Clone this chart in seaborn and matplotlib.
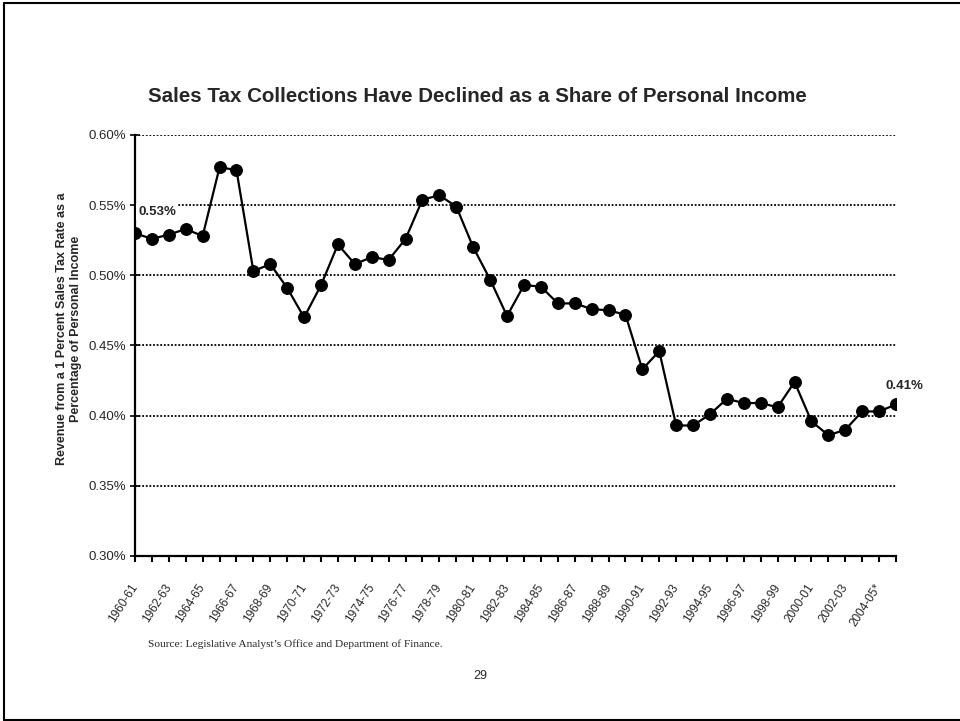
import matplotlib
matplotlib.use("Agg")
import matplotlib.pyplot as plt
from matplotlib.lines import Line2D
from matplotlib.transforms import ScaledTranslation
from matplotlib.ticker import FuncFormatter, MultipleLocator
import numpy as np
import pandas as pd
import seaborn as sns

# Fiscal years shown on the category axis
fiscal_years = [
    "1960-61", "1961-62", "1962-63", "1963-64", "1964-65", "1965-66",
    "1966-67", "1967-68", "1968-69", "1969-70", "1970-71", "1971-72",
    "1972-73", "1973-74", "1974-75", "1975-76", "1976-77", "1977-78",
    "1978-79", "1979-80", "1980-81", "1981-82", "1982-83", "1983-84",
    "1984-85", "1985-86", "1986-87", "1987-88", "1988-89", "1989-90",
    "1990-91", "1991-92", "1992-93", "1993-94", "1994-95", "1995-96",
    "1996-97", "1997-98", "1998-99", "1999-00", "2000-01", "2001-02",
    "2002-03", "2003-04", "2004-05*", "2005-06",
]

# Revenue from a 1 percent sales tax rate, percent of personal income
revenue_share = [
    0.530, 0.526, 0.529, 0.533, 0.528, 0.577, 0.575, 0.503, 0.508, 0.491,
    0.470, 0.493, 0.522, 0.508, 0.513, 0.511, 0.526, 0.554, 0.557, 0.549,
    0.520, 0.497, 0.471, 0.493, 0.492, 0.480, 0.480, 0.476, 0.475, 0.472,
    0.433, 0.446, 0.393, 0.393, 0.401, 0.412, 0.409, 0.409, 0.406, 0.424,
    0.396, 0.386, 0.390, 0.403, 0.403, 0.408,
]

# Every other fiscal year gets a tick label
labeled_years = [
    "1960-61", "1962-63", "1964-65", "1966-67", "1968-69", "1970-71",
    "1972-73", "1974-75", "1976-77", "1978-79", "1980-81", "1982-83",
    "1984-85", "1986-87", "1988-89", "1990-91", "1992-93", "1994-95",
    "1996-97", "1998-99", "2000-01", "2002-03", "2004-05*",
]

df = pd.DataFrame({
    "pos": np.arange(len(fiscal_years)),
    "year": fiscal_years,
    "share": revenue_share,
})

sns.set_theme(style="white")
plt.rcParams["font.family"] = ["Liberation Sans", "DejaVu Sans"]

W, H, DPI = 960, 721, 100
fig = plt.figure(figsize=(W / DPI, H / DPI), dpi=DPI)
fig.patch.set_facecolor("white")

# plot area in pixel coordinates
x0, x1, ytop, ybot = 135, 896, 135, 556
ax = fig.add_axes([x0 / W, (H - ybot) / H, (x1 - x0) / W, (ybot - ytop) / H])
ax.set_facecolor("white")

sns.lineplot(
    data=df, x="pos", y="share", ax=ax, color="black", linewidth=1.6,
    marker="o", markersize=8.5, markeredgecolor="black",
    markerfacecolor="black", zorder=3,
)

ax.set_xlim(0, len(fiscal_years) - 1)
ax.set_ylim(0.30, 0.60)
ax.yaxis.set_major_locator(MultipleLocator(0.05))
ax.yaxis.set_major_formatter(FuncFormatter(lambda v, _: f"{v:.2f}%"))

ax.set_xticks(df["pos"])
ax.set_xticklabels([y if y in labeled_years else "" for y in fiscal_years],
                   rotation=57, ha="right", va="center",
                   rotation_mode="anchor", fontsize=8.5)
shift = ScaledTranslation(-9 / DPI, 0, fig.dpi_scale_trans)
for lbl in ax.get_xticklabels():
    lbl.set_transform(lbl.get_transform() + shift)

ax.tick_params(axis="x", direction="out", length=4, width=1.5,
               color="black", pad=17, bottom=True)
ax.tick_params(axis="y", direction="inout", length=7, width=1.2,
               color="black", labelsize=9.5, pad=3, left=True)

ax.grid(axis="y", color="black", linestyle=(0, (1, 1)), linewidth=1.3)
ax.grid(axis="x", visible=False)
for side in ("top", "right"):
    ax.spines[side].set_visible(False)
for side in ("left", "bottom"):
    ax.spines[side].set_color("black")
    ax.spines[side].set_linewidth(1.6)
    ax.spines[side].set_zorder(4)

ax.set_xlabel("")
ax.set_ylabel("Revenue from a 1 Percent Sales Tax Rate as a\nPercentage of Personal Income",
              fontsize=9, fontweight="bold", linespacing=1.2)
ax.yaxis.set_label_coords(-0.07, 0.54)

# value labels at both ends of the series
first, last = revenue_share[0], revenue_share[-1]
ax.annotate(f"{first:.2f}%", xy=(0, first), xytext=(16, 15),
            textcoords="offset points", ha="center", va="center",
            fontsize=9.5, fontweight="bold", zorder=5,
            bbox=dict(boxstyle="square,pad=0.15", fc="white", ec="none"))
ax.annotate(f"{last:.2f}%", xy=(len(revenue_share) - 1, last), xytext=(6, 13),
            textcoords="offset points", ha="center", va="center",
            fontsize=9.5, fontweight="bold", zorder=5, annotation_clip=False)

fig.text(477 / W, 1 - 97 / H,
         "Sales Tax Collections Have Declined as a Share of Personal Income",
         ha="center", va="center", fontsize=14.8, fontweight="bold")
fig.text(148 / W, 1 - 644 / H,
         "Source: Legislative Analyst\u2019s Office and Department of Finance.",
         ha="left", va="center", fontsize=8.2, family=["Liberation Serif"])
fig.text(480 / W, 1 - 676 / H, "29", ha="center", va="center", fontsize=9)

# page frame
lw = 1.5
fig.add_artist(Line2D([4 / W, 4 / W], [1 - 3 / H, 1 - 719.5 / H],
                      transform=fig.transFigure, color="black", linewidth=lw))
fig.add_artist(Line2D([4 / W, 1], [1 - 3 / H, 1 - 3 / H],
                      transform=fig.transFigure, color="black", linewidth=lw))
fig.add_artist(Line2D([4 / W, 1], [1 - 719.5 / H, 1 - 719.5 / H],
                      transform=fig.transFigure, color="black", linewidth=lw))

fig.savefig("out.png", dpi=DPI, facecolor="white")
